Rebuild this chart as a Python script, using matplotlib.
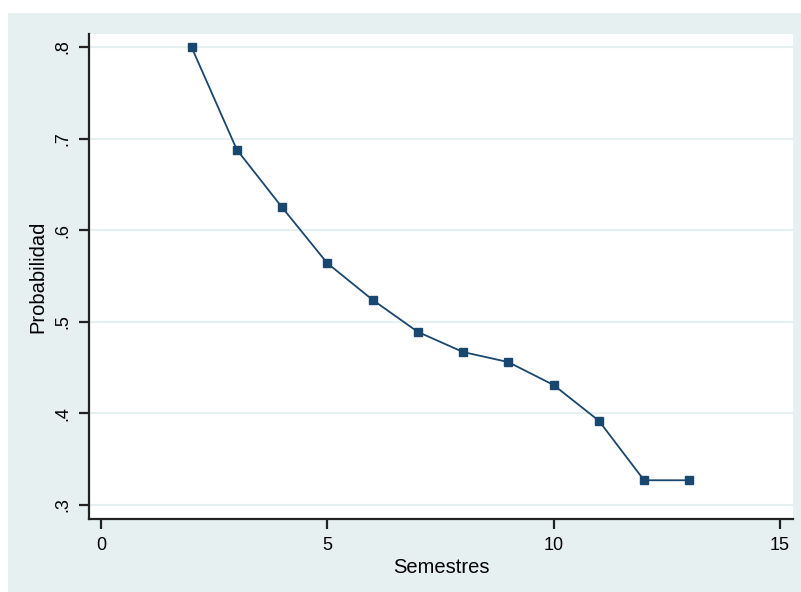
import matplotlib.pyplot as plt
from matplotlib.patches import Rectangle

# survival-type curve
semestres = [2, 3, 4, 5, 6, 7, 8, 9, 10, 11, 12, 13]
probabilidad = [0.800, 0.688, 0.625, 0.564, 0.524, 0.489, 0.467, 0.456, 0.431, 0.392, 0.327, 0.327]
x_ticks = [0, 5, 10, 15]
y_ticks = [0.3, 0.4, 0.5, 0.6, 0.7, 0.8]
y_tick_labels = [".3", ".4", ".5", ".6", ".7", ".8"]

bg = "#e6f0f0"
navy = "#1a476f"
plt.rcParams["font.family"] = ["Liberation Sans", "DejaVu Sans"]

W, H = 801, 592
fig = plt.figure(figsize=(W / 100, H / 100), dpi=100, facecolor="white")
fig.patches.append(Rectangle((8 / W, 0), 1 - 8 / W, 1 - 13 / H, transform=fig.transFigure,
                             facecolor=bg, edgecolor="none", zorder=-10))

ax = fig.add_axes([89 / W, (H - 519) / H, (793 - 89) / W, (519 - 34) / H])
ax.set_facecolor("white")
ax.plot(semestres, probabilidad, color=navy, lw=1.3, marker="s", ms=5.5, mec=navy, mfc=navy)

ax.set_xlim(-0.265, 15.29)
ax.set_ylim(0.2847, 0.8142)
ax.set_xticks(x_ticks)
ax.set_yticks(y_ticks)
ax.set_yticklabels(y_tick_labels, rotation=90, va="center")
ax.yaxis.grid(True, color=bg, lw=1.6)
ax.set_axisbelow(True)

for side in ["top", "right"]:
    ax.spines[side].set_visible(False)
for side in ["left", "bottom"]:
    ax.spines[side].set_linewidth(1.6)
    ax.spines[side].set_color("#222222")
ax.tick_params(axis="both", length=7, width=1.6, color="#222222", labelsize=13, pad=6)

ax.set_xlabel("Semestres", fontsize=14.5, labelpad=3)
ax.set_ylabel("Probabilidad", fontsize=14.5, labelpad=5)

fig.savefig("out.png", dpi=100, facecolor=fig.get_facecolor())
